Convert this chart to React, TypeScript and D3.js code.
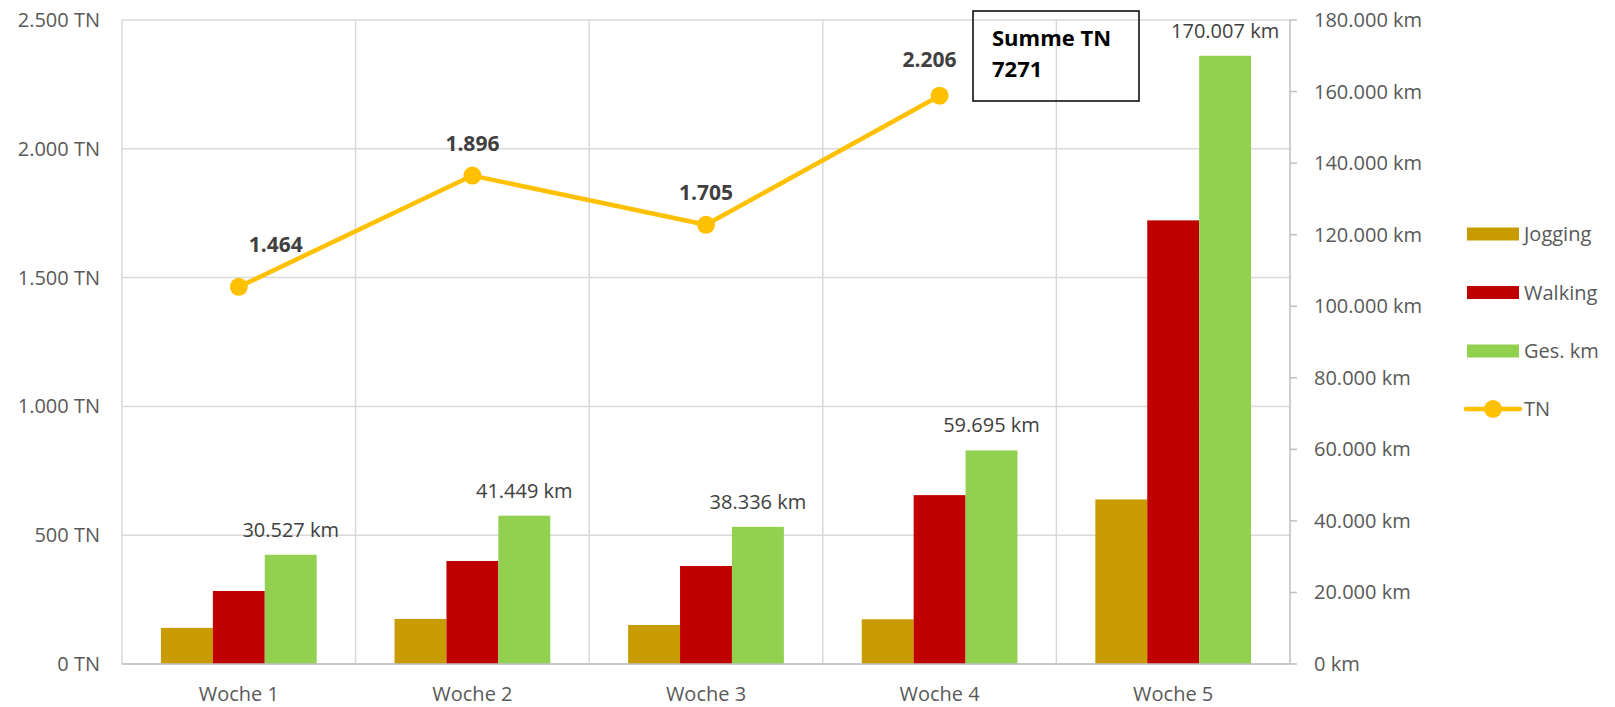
import React from 'react'
import * as d3 from 'd3'

// weekly values
const weeks = ['Woche 1', 'Woche 2', 'Woche 3', 'Woche 4', 'Woche 5']
const jogging = [10100, 12600, 10900, 12500, 46000]
const walking = [20400, 28800, 27400, 47200, 124000]
const gesKm = [30527, 41449, 38336, 59695, 170007]
const tn = [1464, 1896, 1705, 2206, null]
const tnTicks = [0, 500, 1000, 1500, 2000, 2500]
const kmTicks = [0, 20000, 40000, 60000, 80000, 100000, 120000, 140000, 160000, 180000]
const summeTN = 7271

// manual nudges of the TN labels (dx, dy), as in the original
const tnLabelNudge = [[37, -10], [0, 0], [0, 0], [-10, -4], [0, 0]]

const width = 1615
const height = 707
const left = 122
const right = 1290
const top = 20
const bottom = 664

const textColor = '#595959'
const labelColor = '#404040'
const font = "'Open Sans', sans-serif"
const fs = 20

const de = d3.formatLocale({ decimal: ',', thousands: '.', grouping: [3], currency: ['', '€'] })
const fmt = de.format(',')

export default function App() {
    const series = [
        { key: 'Jogging', values: jogging, color: '#C89B00' },
        { key: 'Walking', values: walking, color: '#C00000' },
        { key: 'Ges. km', values: gesKm, color: '#92D050' },
    ]

    const x0 = d3.scaleBand().domain(weeks).range([left, right]).padding(0)
    const x1 = d3.scaleBand()
        .domain(series.map(s => s.key))
        .range([0, x0.bandwidth()])
        .paddingInner(0)
        .paddingOuter(0.75)
    const yL = d3.scaleLinear().domain([0, 2500]).range([bottom, top])
    const yR = d3.scaleLinear().domain([0, 180000]).range([bottom, top])

    const tnPoints = weeks
        .map((w, i) => ({ w, i, v: tn[i] }))
        .filter(d => d.v != null)
    const cx = (w: string) => (x0(w) as number) + x0.bandwidth() / 2
    const line = d3.line<any>()
        .x(d => cx(d.w))
        .y(d => yL(d.v))

    // boundaries of the categories for the vertical gridlines
    const bounds = weeks.map(w => x0(w) as number)

    const legendY = [234, 292.5, 351, 409]

    return (
        <>
            <style>{'body{margin:0}'}</style>
            <svg width={width} height={height} style={{ display: 'block', background: '#fff' }} fontFamily={font}>
                {/* horizontal gridlines on the TN axis */}
                {tnTicks.map(t => (
                    <line key={'h' + t} x1={left} x2={right} y1={yL(t)} y2={yL(t)} stroke="#D9D9D9" strokeWidth={1.5} />
                ))}
                {/* vertical gridlines between weeks */}
                {bounds.map((b, i) => (
                    <line key={'v' + i} x1={b} x2={b} y1={top} y2={bottom} stroke="#D9D9D9" strokeWidth={1.5} />
                ))}

                {/* bars */}
                {series.map(s => (
                    <g key={s.key}>
                        {weeks.map((w, i) => (
                            <rect
                                key={w}
                                x={(x0(w) as number) + (x1(s.key) as number)}
                                y={yR(s.values[i])}
                                width={x1.bandwidth()}
                                height={bottom - yR(s.values[i])}
                                fill={s.color}
                            />
                        ))}
                    </g>
                ))}

                {/* bottom axis line */}
                <line x1={left} x2={right} y1={bottom} y2={bottom} stroke="#BFBFBF" strokeWidth={1.5} />
                {/* right axis */}
                <line x1={right} x2={right} y1={top} y2={bottom} stroke="#BFBFBF" strokeWidth={1.5} />
                {kmTicks.map(t => (
                    <g key={'r' + t}>
                        <line x1={right} x2={right + 7} y1={yR(t)} y2={yR(t)} stroke="#BFBFBF" strokeWidth={1.5} />
                        <text x={1314} y={yR(t)} dy="0.35em" fontSize={fs} fill={textColor}>{fmt(t)} km</text>
                    </g>
                ))}

                {/* left axis labels */}
                {tnTicks.map(t => (
                    <text key={'l' + t} x={100} y={yL(t)} dy="0.35em" textAnchor="end" fontSize={fs} fill={textColor}>
                        {fmt(t)} TN
                    </text>
                ))}

                {/* category labels */}
                {weeks.map(w => (
                    <text key={'c' + w} x={cx(w)} y={694} dy="0.35em" textAnchor="middle" fontSize={fs} fill={textColor}>
                        {w}
                    </text>
                ))}

                {/* Ges. km labels */}
                {weeks.map((w, i) => (
                    <text
                        key={'g' + w}
                        x={(x0(w) as number) + (x1('Ges. km') as number) + x1.bandwidth() / 2}
                        y={yR(gesKm[i]) - 25}
                        dy="0.35em"
                        textAnchor="middle"
                        fontSize={fs}
                        fill={labelColor}
                    >
                        {fmt(gesKm[i])} km
                    </text>
                ))}

                {/* TN line */}
                <path d={line(tnPoints) as string} fill="none" stroke="#FFC000" strokeWidth={4.5} strokeLinejoin="round" />
                {tnPoints.map(d => (
                    <circle key={'p' + d.w} cx={cx(d.w)} cy={yL(d.v as number)} r={9} fill="#FFC000" />
                ))}
                {tnPoints.map(d => (
                    <text
                        key={'t' + d.w}
                        x={cx(d.w) + tnLabelNudge[d.i][0]}
                        y={yL(d.v as number) - 32 + tnLabelNudge[d.i][1]}
                        dy="0.35em"
                        textAnchor="middle"
                        fontSize={21}
                        fontWeight="bold"
                        fill={labelColor}
                    >
                        {fmt(d.v as number)}
                    </text>
                ))}

                {/* annotation box */}
                <rect x={973} y={11} width={166} height={90} fill="none" stroke="#000" strokeWidth={1.5} />
                <text x={992} y={46} fontSize={22} fontWeight="bold" fill="#000">Summe TN</text>
                <text x={992} y={77} fontSize={22} fontWeight="bold" fill="#000">{summeTN}</text>

                {/* legend */}
                {series.map((s, i) => (
                    <g key={'lg' + s.key}>
                        <rect x={1467} y={legendY[i] - 6.5} width={52} height={13} fill={s.color} />
                        <text x={1524} y={legendY[i]} dy="0.35em" fontSize={fs} fill={textColor}>{s.key}</text>
                    </g>
                ))}
                <g>
                    <line x1={1466} x2={1520} y1={legendY[3]} y2={legendY[3]} stroke="#FFC000" strokeWidth={4.5} strokeLinecap="round" />
                    <circle cx={1493} cy={legendY[3]} r={9} fill="#FFC000" />
                    <text x={1524} y={legendY[3]} dy="0.35em" fontSize={fs} fill={textColor}>TN</text>
                </g>
            </svg>
        </>
    )
}
